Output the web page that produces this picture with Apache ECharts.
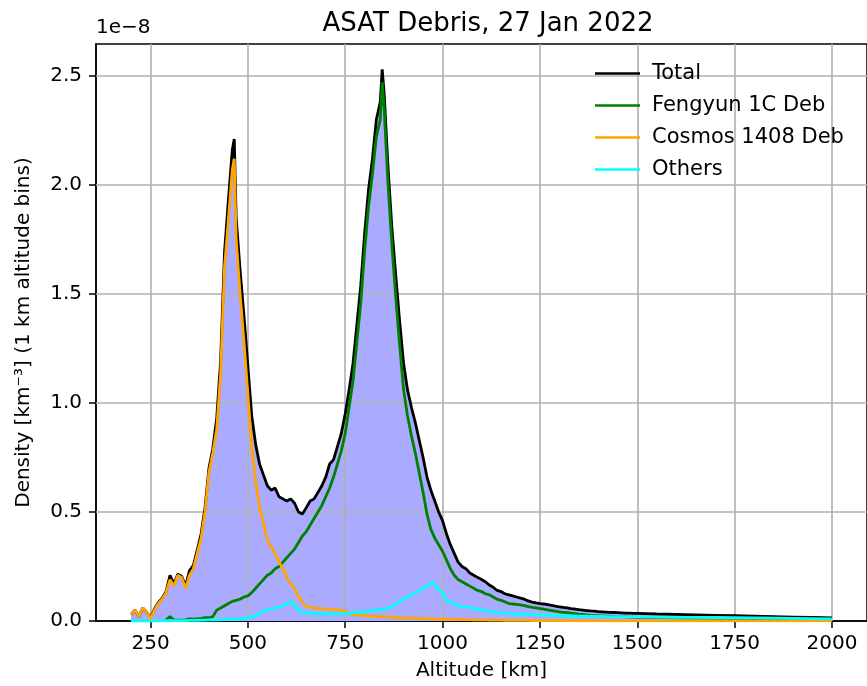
<!DOCTYPE html>
<html>
<head>
<meta charset="utf-8">
<script src="https://cdn.jsdelivr.net/npm/echarts@6/dist/echarts.min.js"></script>
<style>
  html, body { margin: 0; padding: 0; background: #fff; }
  #chart { width: 867px; height: 686px; }
</style>
</head>
<body>
<div id="chart"></div>
<script>
// altitude bins (km)
var alt = [
  200,210,220,230,240,250,260,270,280,290,
  300,310,320,330,340,350,360,370,380,390,
  400,410,420,430,440,450,460,465,470,480,490,
  500,510,520,530,540,550,560,570,580,590,
  600,610,620,630,640,650,660,670,680,690,
  700,710,720,730,740,750,760,770,780,790,
  800,810,820,830,840,845,850,860,870,880,890,
  900,910,920,930,940,950,960,970,980,990,
  1000,1010,1020,1030,1040,1050,1060,1070,1080,1090,
  1100,1110,1120,1130,1140,1150,1160,1170,1180,1190,
  1200,1210,1220,1230,1240,1250,1260,1270,1280,1290,
  1300,1310,1320,1330,1340,1350,1360,1370,1380,1390,
  1400,1410,1420,1430,1440,1450,1460,1470,1480,1490,
  1500,1550,1600,1650,1700,1750,1800,1850,1900,1950,2000
];

// density, units of 1e-8 km^-3
var totalVals = [
  0.03,0.05,0.02,0.06,0.04,0.015,0.055,0.085,0.105,0.135,
  0.21,0.17,0.215,0.205,0.16,0.23,0.255,0.325,0.40,0.52,
  0.70,0.79,0.93,1.19,1.69,1.93,2.16,2.21,1.85,1.61,1.40,
  1.17,0.94,0.81,0.72,0.67,0.62,0.60,0.61,0.57,0.56,
  0.55,0.56,0.54,0.50,0.49,0.52,0.55,0.56,0.59,0.62,
  0.66,0.72,0.74,0.80,0.86,0.95,1.06,1.18,1.36,1.54,
  1.78,1.98,2.12,2.30,2.38,2.53,2.42,2.08,1.80,1.58,1.37,
  1.18,1.06,0.98,0.91,0.83,0.75,0.66,0.60,0.55,0.50,
  0.46,0.40,0.35,0.31,0.27,0.25,0.24,0.22,0.21,0.20,
  0.19,0.18,0.165,0.155,0.14,0.135,0.125,0.12,0.115,0.11,
  0.105,0.10,0.092,0.087,0.083,0.08,0.078,0.075,0.072,0.068,
  0.065,0.062,0.06,0.057,0.055,0.052,0.05,0.048,0.046,0.045,
  0.043,0.042,0.041,0.04,0.039,0.038,0.037,0.036,0.036,0.035,
  0.035,0.032,0.03,0.028,0.026,0.024,0.022,0.02,0.018,0.016,0.014
];

var fengyunVals = [
  null,null,null,null,null,null,null,null,null,0.005,
  0.02,0.005,0.003,0.004,0.005,0.01,0.008,0.01,0.012,0.015,
  0.015,0.02,0.05,0.06,0.07,0.08,0.09,0.09,0.095,0.10,0.11,
  0.115,0.13,0.15,0.17,0.19,0.21,0.22,0.24,0.25,0.27,
  0.29,0.31,0.33,0.36,0.39,0.41,0.44,0.47,0.50,0.53,
  0.57,0.61,0.66,0.72,0.78,0.86,0.98,1.10,1.28,1.46,
  1.70,1.90,2.05,2.22,2.30,2.47,2.35,2.00,1.72,1.48,1.26,
  1.06,0.94,0.85,0.77,0.68,0.59,0.49,0.42,0.38,0.35,
  0.32,0.28,0.24,0.21,0.19,0.18,0.17,0.16,0.15,0.14,
  0.135,0.125,0.12,0.11,0.10,0.095,0.088,0.08,0.078,0.076,
  0.074,0.07,0.066,0.062,0.06,0.057,0.054,0.051,0.048,0.045,
  0.042,0.04,0.038,0.036,0.034,0.031,0.03,0.028,0.026,0.025,
  0.024,0.023,0.022,0.022,0.021,0.02,0.02,0.019,0.018,0.018,
  0.017,0.016,0.014,0.013,0.012,0.011,0.01,0.009,0.008,0.007,0.006
];

var cosmosVals = [
  0.03,0.05,0.02,0.06,0.04,0.01,0.05,0.08,0.10,0.13,
  0.19,0.16,0.21,0.20,0.15,0.21,0.24,0.31,0.38,0.50,
  0.68,0.77,0.88,1.13,1.62,1.84,2.07,2.12,1.75,1.50,1.28,
  1.04,0.80,0.64,0.52,0.45,0.37,0.34,0.31,0.27,0.24,
  0.20,0.17,0.15,0.11,0.085,0.068,0.062,0.06,0.058,0.055,
  0.057,0.052,0.05,0.052,0.047,0.045,0.035,0.03,0.028,0.026,
  0.024,0.023,0.022,0.021,0.02,0.02,0.02,0.019,0.018,0.017,0.016,
  0.014,0.013,0.013,0.012,0.012,0.011,0.011,0.01,0.01,0.009,
  0.009,0.008,0.008,0.007,0.007,0.006,0.006,0.006,0.005,0.005,
  0.005,0.005,0.004,0.004,0.004,0.004,0.003,0.003,0.003,0.003,
  0.003,0.003,0.003,0.002,0.002,0.002,0.002,0.002,0.002,0.002,
  0.002,0.002,0.002,0.002,0.001,0.001,0.001,0.001,0.001,0.001,
  0.001,0.001,0.001,0.001,0.001,0.001,0.001,0.001,0.001,0.001,
  0.001,0.001,0.001,0.001,0.001,0.001,0.001,0.001,0.001,0.001,0.001
];

var othersVals = [
  0,0,0,0,0,0,0.001,0.001,0.001,0.001,
  0.002,0.002,0.002,0.002,0.002,0.003,0.003,0.003,0.004,0.004,
  0.005,0.005,0.005,0.006,0.006,0.008,0.008,0.009,0.009,0.01,0.012,
  0.014,0.02,0.025,0.035,0.045,0.05,0.055,0.06,0.062,0.07,
  0.08,0.09,0.07,0.05,0.04,0.038,0.035,0.036,0.033,0.034,
  0.035,0.033,0.03,0.035,0.032,0.035,0.036,0.038,0.04,0.04,
  0.042,0.045,0.048,0.05,0.05,0.052,0.055,0.06,0.065,0.08,0.09,
  0.10,0.11,0.12,0.13,0.14,0.15,0.16,0.175,0.17,0.145,
  0.13,0.09,0.085,0.08,0.07,0.065,0.065,0.062,0.058,0.055,
  0.05,0.048,0.045,0.042,0.04,0.038,0.037,0.035,0.034,0.033,
  0.032,0.031,0.03,0.029,0.029,0.028,0.027,0.027,0.026,0.025,
  0.025,0.024,0.024,0.023,0.023,0.022,0.022,0.022,0.021,0.021,
  0.021,0.021,0.02,0.02,0.02,0.02,0.02,0.019,0.019,0.019,
  0.019,0.018,0.017,0.017,0.016,0.015,0.014,0.013,0.012,0.011,0.01
];

var xTicks = [250, 500, 750, 1000, 1250, 1500, 1750, 2000];
var yTicks = [0, 0.5, 1.0, 1.5, 2.0, 2.5];

function pairs(vals) {
  return alt.map(function (a, i) { return [a, vals[i]]; });
}

var chart = echarts.init(document.getElementById('chart'));
var font = 'DejaVu Sans';

// grid lines sit above the fill but below the curves, like matplotlib
var gridLines = xTicks.map(function (v) { return { xAxis: v }; })
  .concat(yTicks.slice(1).map(function (v) { return { yAxis: v }; }));

function curve(name, vals, color, z) {
  return {
    name: name,
    type: 'line',
    data: pairs(vals),
    z: z,
    symbol: 'none',
    connectNulls: false,
    itemStyle: { color: color },
    lineStyle: { color: color, width: 2.8 }
  };
}

option = {
  animation: false,
  textStyle: { fontFamily: font },
  title: {
    text: 'ASAT Debris, 27 Jan 2022',
    left: 483, top: 6, textAlign: 'center',
    textStyle: { fontFamily: font, fontSize: 26, fontWeight: 'normal', color: '#000' }
  },
  graphic: [{
    type: 'text', left: 96, top: 18,
    style: { text: '1e\u22128', font: '20px "DejaVu Sans"', fill: '#000' }
  }],
  legend: {
    data: ['Total', 'Fengyun 1C Deb', 'Cosmos 1408 Deb', 'Others'],
    orient: 'vertical',
    left: 590, top: 57,
    icon: 'rect',
    itemWidth: 45, itemHeight: 2.5,
    itemGap: 9,
    textStyle: { fontFamily: font, fontSize: 21, lineHeight: 23, color: '#000', padding: [0, 0, 0, 7] }
  },
  grid: {
    left: 96, right: -2, top: 44, bottom: 65,
    show: true, borderColor: '#000', borderWidth: 1.5
  },
  xAxis: {
    type: 'value', min: 110, max: 2090,
    name: 'Altitude [km]', nameLocation: 'middle', nameGap: 40,
    nameTextStyle: { fontFamily: font, fontSize: 20, color: '#000' },
    axisLine: { lineStyle: { color: '#000', width: 1.5 } },
    axisTick: { show: true, customValues: xTicks, length: 7, lineStyle: { color: '#000', width: 1.5 } },
    axisLabel: {
      customValues: xTicks, margin: 13, fontSize: 20, color: '#000', fontFamily: font,
      formatter: function (v) { return String(v); }
    },
    splitLine: { show: false }
  },
  yAxis: {
    type: 'value', min: 0, max: 2.646,
    name: 'Density [km\u207B\u00B3] (1 km altitude bins)', nameLocation: 'middle', nameGap: 62,
    nameTextStyle: { fontFamily: font, fontSize: 20, color: '#000' },
    axisLine: { show: true, lineStyle: { color: '#000', width: 1.5 } },
    axisTick: { show: true, customValues: yTicks, length: 7, lineStyle: { color: '#000', width: 1.5 } },
    axisLabel: {
      customValues: yTicks, margin: 14, fontSize: 20, color: '#000', fontFamily: font,
      formatter: function (v) { return v.toFixed(1); }
    },
    splitLine: { show: false }
  },
  series: [
    {
      name: 'fill',
      type: 'line',
      data: pairs(totalVals),
      z: 1,
      symbol: 'none',
      lineStyle: { width: 0 },
      areaStyle: { color: '#aaaaff', opacity: 1 },
      markLine: {
        silent: true, symbol: 'none', z: 2,
        label: { show: false },
        lineStyle: { color: '#b0b0b0', width: 1.6, type: 'solid' },
        data: gridLines
      }
    },
    curve('Total', totalVals, '#000000', 3),
    curve('Fengyun 1C Deb', fengyunVals, '#008000', 4),
    curve('Cosmos 1408 Deb', cosmosVals, '#ffa500', 5),
    curve('Others', othersVals, '#00ffff', 6)
  ]
};

chart.setOption(option);
</script>
</body>
</html>
